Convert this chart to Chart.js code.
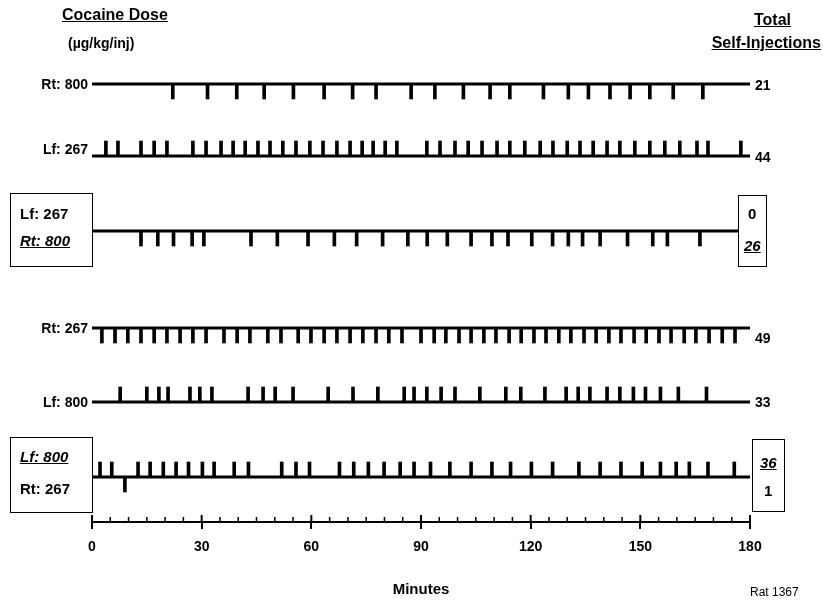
<!DOCTYPE html>
<html>
<head>
<meta charset="utf-8">
<script src="https://cdn.jsdelivr.net/npm/chart.js@4"></script>
<style>
body { margin: 0; background: #fff; }
#wrap { position: relative; width: 823px; height: 605px; font-family: "Liberation Sans", Arial, sans-serif; font-weight: bold; color: #000; }
#wrap canvas { position: absolute; left: 0; top: 0; }
.t { position: absolute; white-space: nowrap; line-height: 1; font-size: 14px; }
.r { text-align: right; }
.u { text-decoration: underline; }
.i { font-style: italic; }
.box { position: absolute; border: 1px solid #000; background: #fff; box-sizing: border-box; }
</style>
</head>
<body>
<div id="wrap">
  <canvas id="chart" width="823" height="605"></canvas>

  <div class="t u" style="left:62px;top:7px;font-size:16px;">Cocaine Dose</div>
  <div class="t" style="left:68px;top:36px;font-size:14px;">(µg/kg/inj)</div>
  <div class="t u" style="left:754px;top:12px;font-size:16px;">Total</div>
  <div class="t u" style="right:2px;top:35px;font-size:16px;">Self-Injections</div>

  <div class="t r" style="right:735px;top:77px;">Rt: 800</div>
  <div class="t r" style="right:735px;top:142px;">Lf: 267</div>
  <div class="t r" style="right:735px;top:321px;">Rt: 267</div>
  <div class="t r" style="right:735px;top:395px;">Lf: 800</div>

  <div class="t" style="left:755px;top:78px;">21</div>
  <div class="t" style="left:755px;top:150px;">44</div>
  <div class="t" style="left:755px;top:331px;">49</div>
  <div class="t" style="left:755px;top:395px;">33</div>

  <div class="box" style="left:10px;top:193px;width:83px;height:74px;">
    <div class="t" style="left:9px;top:12px;font-size:15px;">Lf: 267</div>
    <div class="t i u" style="left:9px;top:39px;font-size:15px;">Rt: 800</div>
  </div>
  <div class="box" style="left:738px;top:195px;width:29px;height:72px;">
    <div class="t" style="left:9px;top:10px;font-size:15px;">0</div>
    <div class="t i u" style="left:5px;top:42px;font-size:15px;">26</div>
  </div>

  <div class="box" style="left:10px;top:437px;width:83px;height:76px;">
    <div class="t i u" style="left:9px;top:11px;font-size:15px;">Lf: 800</div>
    <div class="t" style="left:9px;top:43px;font-size:15px;">Rt: 267</div>
  </div>
  <div class="box" style="left:752px;top:439px;width:33px;height:73px;">
    <div class="t i u" style="left:7px;top:15px;font-size:15px;">36</div>
    <div class="t" style="left:11px;top:43px;font-size:15px;">1</div>
  </div>

  <div class="t" style="left:750px;top:586px;font-size:12px;font-weight:normal;">Rat 1367</div>
</div>

<script>
// session: minutes 0-180, each entry = time (min) of one self-injection
const sessionMinutes = [0, 180];
const axisTickValues = [0, 30, 60, 90, 120, 150, 180];

const rt800First = [22.1, 31.6, 39.6, 47.1, 55.1, 63.5, 71.3, 77.7, 87.3, 93.8, 101.6, 108.9, 114.3,
    123.5, 130.3, 135.8, 141.7, 147.2, 152.6, 159.0, 167.1];

const lf267First = [3.8, 7.1, 13.4, 17.0, 20.5, 27.6, 31.2, 35.3, 38.6, 41.9, 45.4, 48.7, 52.2, 55.8,
    59.6, 63.2, 67.0, 70.6, 73.9, 76.9, 80.2, 83.4, 91.6, 95.2, 99.3, 102.9, 106.7, 110.8, 114.3, 118.4,
    122.6, 126.1, 130.0, 133.5, 137.1, 140.9, 144.4, 148.5, 152.6, 156.7, 160.8, 165.5, 168.5, 177.5];

const lf267Choice = [];
const rt800Choice = [13.4, 18.0, 22.3, 27.4, 30.6, 43.5, 50.7, 59.1, 66.3, 72.4, 79.5, 86.4, 91.7, 97.2,
    103.7, 109.4, 113.8, 120.3, 126.0, 130.3, 134.2, 139.0, 146.5, 153.4, 157.4, 166.3];

const rt267Second = [2.7, 6.3, 9.8, 13.4, 17.0, 20.5, 24.1, 27.6, 31.2, 36.1, 39.7, 43.2, 48.1, 51.7,
    56.4, 59.9, 63.5, 67.0, 70.6, 74.1, 77.7, 81.2, 84.8, 90.0, 93.6, 96.8, 100.4, 103.7, 107.2, 110.5,
    114.1, 117.4, 120.9, 124.2, 127.7, 131.0, 134.6, 137.9, 141.4, 144.7, 148.3, 151.6, 155.1, 158.4,
    162.0, 165.2, 168.8, 172.4, 175.9];

const lf800Second = [7.7, 15.0, 18.3, 20.8, 26.8, 29.5, 32.8, 42.7, 46.8, 50.1, 55.0, 64.6, 71.4, 78.2,
    85.4, 88.1, 91.6, 95.5, 99.3, 106.1, 113.2, 117.3, 123.9, 129.7, 133.0, 136.2, 140.9, 144.4, 148.1,
    151.4, 155.5, 160.4, 168.1];

const lf800Choice = [2.2, 5.4, 12.6, 15.9, 19.5, 23.0, 26.4, 30.2, 33.4, 38.9, 42.8, 51.9, 55.8, 59.5,
    67.7, 71.6, 75.6, 79.9, 84.3, 88.1, 92.6, 97.9, 103.7, 109.4, 114.5, 120.2, 126.0, 133.2, 139.0,
    144.7, 150.5, 155.5, 159.8, 163.4, 168.5, 175.7];
const rt267Choice = [9.0];

// y scale runs in pixels from the top, so each record line sits on its own row
const tickLen = 15;
const rows = [
    { base: 84, marks: [[rt800First, 'down']] },
    { base: 156, marks: [[lf267First, 'up']] },
    { base: 231, marks: [[lf267Choice, 'up'], [rt800Choice, 'down']] },
    { base: 328, marks: [[rt267Second, 'down']] },
    { base: 402, marks: [[lf800Second, 'up']] },
    { base: 477, marks: [[lf800Choice, 'up'], [rt267Choice, 'down']] }
];

const datasets = [];
rows.forEach(row => {
    datasets.push({
        type: 'line',
        data: sessionMinutes.map(m => ({ x: m, y: row.base })),
        borderColor: '#000',
        borderWidth: 3,
        pointRadius: 0
    });
    row.marks.forEach(([times, dir]) => {
        datasets.push({
            type: 'bar',
            data: times.map(t => ({
                x: t,
                y: dir === 'up' ? [row.base - tickLen, row.base] : [row.base, row.base + tickLen]
            })),
            backgroundColor: '#000',
            barThickness: 3,
            grouped: false,
            borderWidth: 0
        });
    });
});

const font = { family: '"Liberation Sans", Arial, sans-serif', size: 14, weight: 'bold' };

// small upward ticks every 5 min on the time axis
const axisMarks = {
    id: 'axisMarks',
    afterDraw(chart) {
        const xs = chart.scales.x;
        const ctx = chart.ctx;
        const y0 = chart.chartArea.bottom;
        ctx.save();
        ctx.strokeStyle = '#000';
        for (let m = 0; m <= 180; m += 5) {
            const px = xs.getPixelForValue(m);
            const major = axisTickValues.includes(m);
            ctx.lineWidth = major ? 2 : 1.5;
            ctx.beginPath();
            ctx.moveTo(px, y0);
            ctx.lineTo(px, y0 - (major ? 7 : 5));
            ctx.stroke();
        }
        ctx.restore();
    }
};

new Chart(document.getElementById('chart'), {
    type: 'bar',
    data: { datasets: datasets },
    options: {
        responsive: false,
        animation: false,
        layout: { padding: { left: 92, right: 73, top: 0, bottom: 0 } },
        plugins: { legend: { display: false }, tooltip: { enabled: false } },
        scales: {
            x: {
                type: 'linear',
                min: 0,
                max: 180,
                offset: false,
                grid: {
                    offset: false,
                    drawOnChartArea: false,
                    drawTicks: true,
                    tickLength: 7,
                    lineWidth: 2,
                    color: c => (c.tick && axisTickValues.includes(c.tick.value)) ? '#000' : 'rgba(0,0,0,0)'
                },
                border: { display: true, color: '#000', width: 2 },
                ticks: {
                    stepSize: 5,
                    autoSkip: false,
                    maxRotation: 0,
                    padding: 10,
                    color: '#000',
                    font: font,
                    callback: v => axisTickValues.includes(v) ? v : ''
                },
                title: { display: true, text: 'Minutes', color: '#000', font: { family: font.family, size: 15, weight: 'bold' }, padding: { top: 0, bottom: 6 } },
                afterFit: s => { s.height = 83; }
            },
            y: { type: 'linear', min: 0, max: 522, reverse: true, display: false }
        }
    },
    plugins: [axisMarks]
});
</script>
</body>
</html>
